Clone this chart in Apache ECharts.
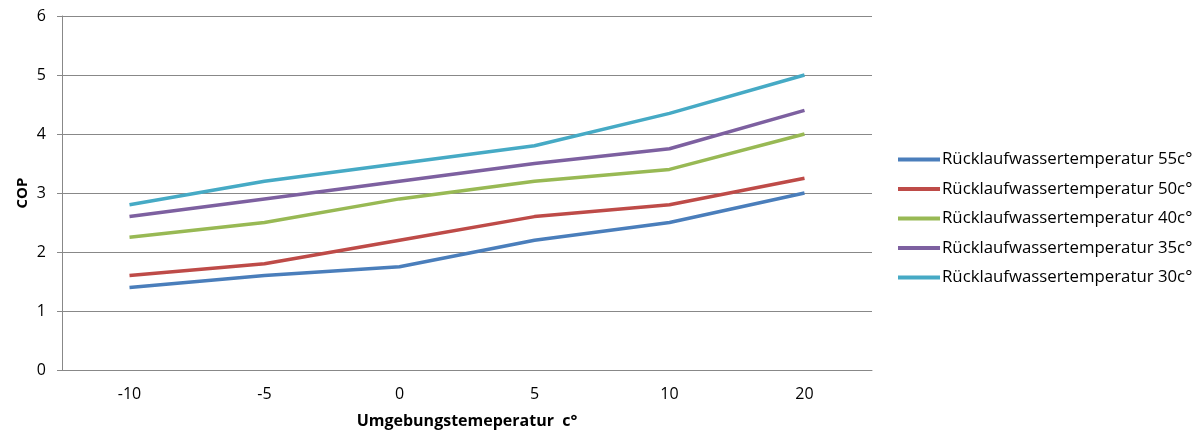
<!DOCTYPE html>
<html>
<head>
<meta charset="utf-8">
<script src="https://cdn.jsdelivr.net/npm/echarts@6/dist/echarts.min.js"></script>
<style>
	html, body { margin: 0; padding: 0; background: #fff; }
	#chart { width: 1203px; height: 434px; }
</style>
</head>
<body>
<div id="chart"></div>
<script>
var categories = ['-10', '-5', '0', '5', '10', '20'];
var seriesNames = [
	'Rücklaufwassertemperatur 55c°',
	'Rücklaufwassertemperatur 50c°',
	'Rücklaufwassertemperatur 40c°',
	'Rücklaufwassertemperatur 35c°',
	'Rücklaufwassertemperatur 30c°'
];
var temp55 = [1.4, 1.6, 1.75, 2.2, 2.5, 3.0];
var temp50 = [1.6, 1.8, 2.2, 2.6, 2.8, 3.25];
var temp40 = [2.25, 2.5, 2.9, 3.2, 3.4, 4.0];
var temp35 = [2.6, 2.9, 3.2, 3.5, 3.75, 4.4];
var temp30 = [2.8, 3.2, 3.5, 3.8, 4.35, 5.0];
var colors = ['#4A7EBB', '#BE4B48', '#98B954', '#7D60A0', '#46AAC5'];

var font = '"Open Sans", "Noto Sans", sans-serif';

function makeLine(i, data) {
	return {
		name: seriesNames[i],
		type: 'line',
		data: data,
		symbol: 'none',
		lineStyle: { width: 3.5, color: colors[i] },
		itemStyle: { color: colors[i] }
	};
}

var chart = echarts.init(document.getElementById('chart'));
var option = {
	animation: false,
	textStyle: { fontFamily: font },
	legend: {
		orient: 'vertical',
		left: 893,
		top: 146,
		icon: 'rect',
		itemWidth: 42,
		itemHeight: 4,
		itemGap: 12.5,
		textStyle: { fontSize: 16.8, color: '#000', fontFamily: font, lineHeight: 17, padding: [0, 0, 0, -3] },
		data: seriesNames
	},
	grid: {
		left: 62,
		right: 331,
		top: 16,
		bottom: 62
	},
	xAxis: {
		type: 'category',
		boundaryGap: true,
		data: categories,
		name: 'Umgebungstemeperatur  c°',
		nameLocation: 'middle',
		nameGap: 43,
		nameMoveOverlap: false,
		nameTextStyle: { fontSize: 16, fontWeight: 'bold', color: '#000', fontFamily: font },
		axisLine: { lineStyle: { color: '#888', width: 1 } },
		axisTick: { show: false },
		axisLabel: { fontSize: 16, color: '#000', margin: 16, fontFamily: font }
	},
	yAxis: {
		type: 'value',
		min: 0,
		max: 6,
		interval: 1,
		name: 'COP',
		nameLocation: 'middle',
		nameGap: 32,
		nameMoveOverlap: false,
		nameRotate: 90,
		nameTextStyle: { fontSize: 15, fontWeight: 'bold', color: '#000', fontFamily: font },
		axisLine: { show: true, lineStyle: { color: '#888', width: 1 } },
		axisTick: { show: true, length: 5, lineStyle: { color: '#888' } },
		axisLabel: { fontSize: 16, color: '#000', margin: 16, fontFamily: font },
		splitLine: { lineStyle: { color: '#888', width: 1 } }
	},
	series: [
		makeLine(0, temp55),
		makeLine(1, temp50),
		makeLine(2, temp40),
		makeLine(3, temp35),
		makeLine(4, temp30)
	]
};
chart.setOption(option);
</script>
</body>
</html>
